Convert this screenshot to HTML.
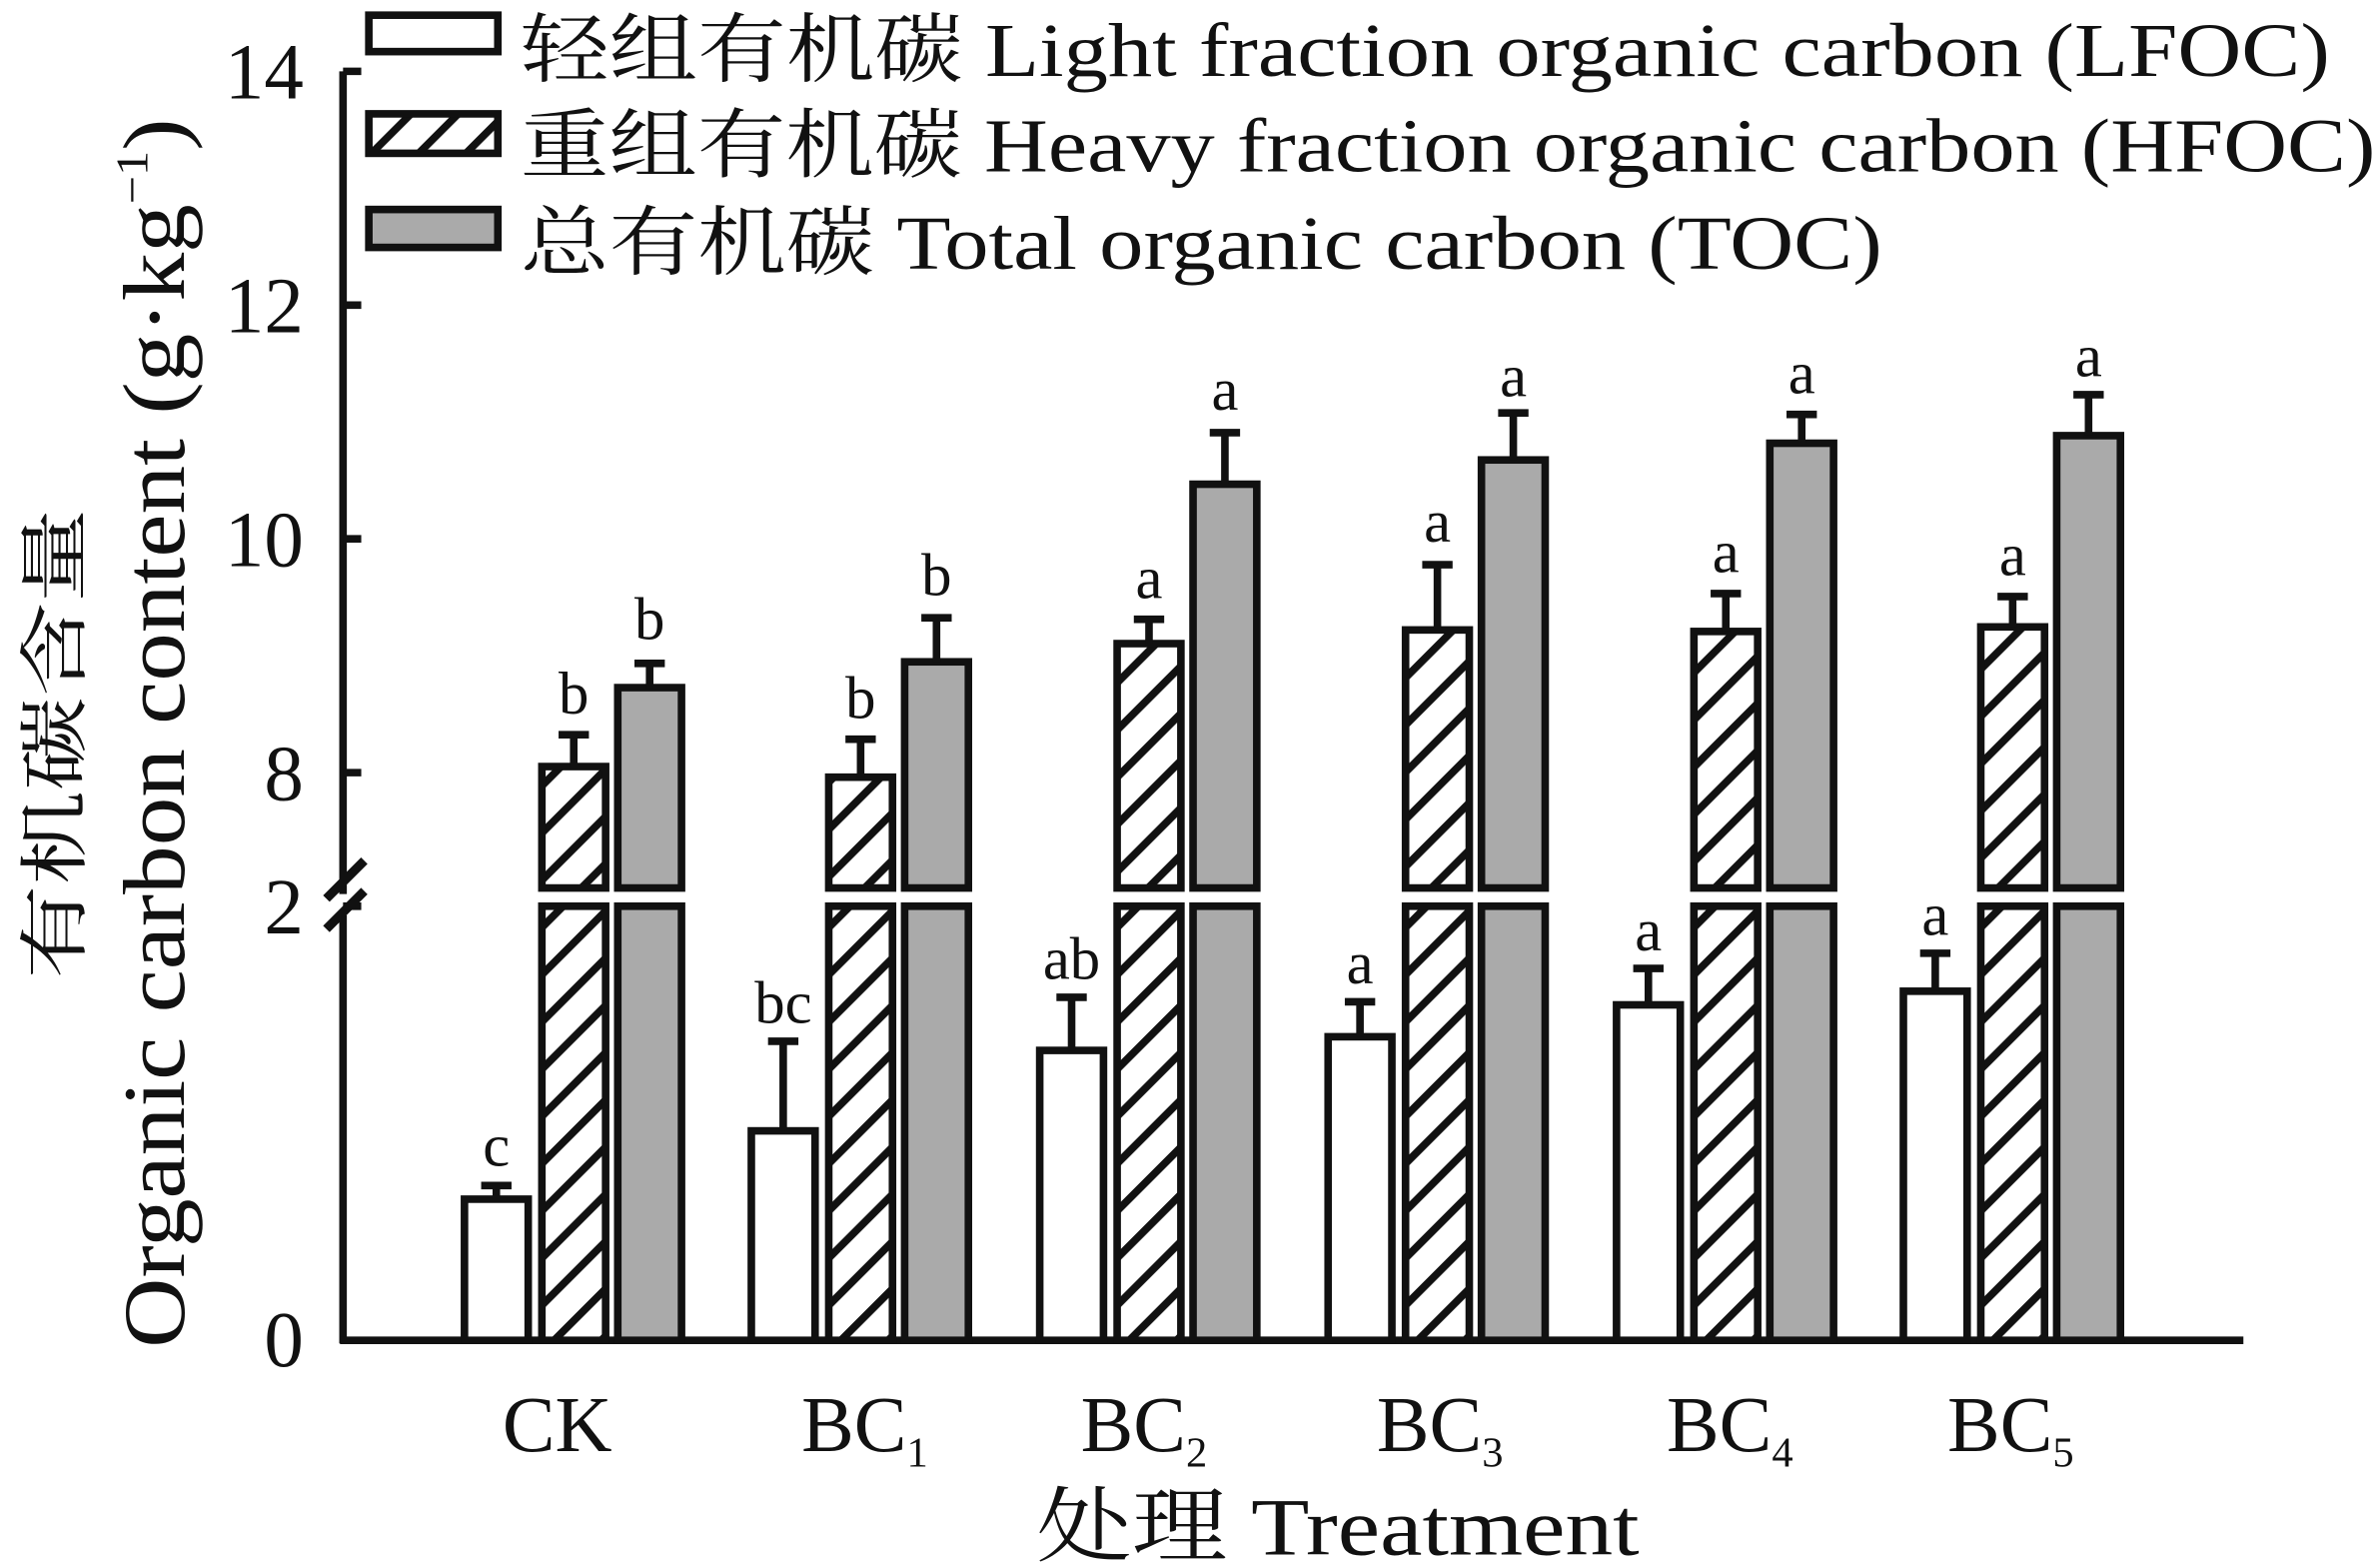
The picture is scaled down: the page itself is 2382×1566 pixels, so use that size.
<!DOCTYPE html>
<html><head><meta charset="utf-8"><style>
html,body{margin:0;padding:0;background:#fff;}
svg{display:block;}
text{font-family:"Liberation Serif","Noto Serif CJK SC",serif;fill:#111;}
</style></head><body>
<svg width="2382" height="1566" viewBox="0 0 1568 1031" preserveAspectRatio="none" xmlns="http://www.w3.org/2000/svg">
<defs>
<pattern id="h" patternUnits="userSpaceOnUse" width="22" height="22" patternTransform="rotate(45)">
<rect x="0" y="0" width="22" height="22" fill="#fff"/>
<rect x="0" y="0" width="5" height="22" fill="#111"/>
</pattern>
</defs>
<g stroke="#111" stroke-width="5" fill="none">
<line x1="226" y1="47" x2="226" y2="589"/>
<line x1="226" y1="603" x2="226" y2="885"/>
<line x1="224" y1="883" x2="1478" y2="883"/>
<line x1="226" y1="47" x2="238" y2="47"/>
<line x1="226" y1="201" x2="238" y2="201"/>
<line x1="226" y1="355" x2="238" y2="355"/>
<line x1="226" y1="509" x2="238" y2="509"/>
<line x1="215" y1="592" x2="240" y2="567" stroke-width="6"/>
<line x1="215" y1="612" x2="240" y2="587" stroke-width="6"/>
<line x1="226" y1="597" x2="238" y2="597"/>
</g>
<g stroke="#111" stroke-width="5">
<rect x="243" y="10" width="85" height="24" fill="#fff"/>
<rect x="243" y="75" width="85" height="26" fill="url(#h)"/>
<rect x="243" y="138" width="85" height="25" fill="#aaa"/>
</g>
<g font-size="50">
<text x="343" y="50" textLength="1192" lengthAdjust="spacingAndGlyphs">轻组有机碳 Light fraction organic carbon (LFOC)</text>
<text x="343" y="113" textLength="1222" lengthAdjust="spacingAndGlyphs">重组有机碳 Heavy fraction organic carbon (HFOC)</text>
<text x="343" y="177" textLength="897" lengthAdjust="spacingAndGlyphs">总有机碳 Total organic carbon (TOC)</text>
</g>
<g font-size="52" text-anchor="end">
<text x="200" y="65">14</text>
<text x="200" y="219">12</text>
<text x="200" y="373">10</text>
<text x="200" y="527">8</text>
<text x="200" y="615">2</text>
<text x="200" y="900">0</text>
</g>
<g stroke="#111" stroke-width="5">
<rect x="306" y="790" width="42" height="93" fill="#fff"/>
<rect x="495" y="745" width="42" height="138" fill="#fff"/>
<rect x="685" y="692" width="42" height="191" fill="#fff"/>
<rect x="875" y="683" width="42" height="200" fill="#fff"/>
<rect x="1065" y="662" width="42" height="221" fill="#fff"/>
<rect x="1254" y="653" width="42" height="230" fill="#fff"/>
<g id="low">
<rect x="357" y="597" width="42" height="286" fill="url(#h)"/>
<rect x="407" y="597" width="42" height="286" fill="#aaa"/>
</g>
<use href="#low" x="189"/><use href="#low" x="379"/><use href="#low" x="569"/><use href="#low" x="759"/><use href="#low" x="948"/>
<rect x="357" y="505" width="42" height="80" fill="url(#h)"/>
<rect x="546" y="512" width="42" height="73" fill="url(#h)"/>
<rect x="736" y="424" width="42" height="161" fill="url(#h)"/>
<rect x="926" y="415" width="42" height="170" fill="url(#h)"/>
<rect x="1116" y="416" width="42" height="169" fill="url(#h)"/>
<rect x="1305" y="413" width="42" height="172" fill="url(#h)"/>
<rect x="407" y="453" width="42" height="132" fill="#aaa"/>
<rect x="596" y="436" width="42" height="149" fill="#aaa"/>
<rect x="786" y="319" width="42" height="266" fill="#aaa"/>
<rect x="976" y="303" width="42" height="282" fill="#aaa"/>
<rect x="1166" y="292" width="42" height="293" fill="#aaa"/>
<rect x="1355" y="287" width="42" height="298" fill="#aaa"/>
</g>
<g stroke="#111" stroke-width="5" fill="none">
<path d="M327 790V781M317 781H337"/>
<path d="M516 745V686M506 686H526"/>
<path d="M706 692V657M696 657H716"/>
<path d="M896 683V660M886 660H906"/>
<path d="M1086 662V638M1076 638H1096"/>
<path d="M1275 653V628M1265 628H1285"/>
<path d="M378 505V484M368 484H388"/>
<path d="M567 512V487M557 487H577"/>
<path d="M757 424V408M747 408H767"/>
<path d="M947 415V372M937 372H957"/>
<path d="M1137 416V391M1127 391H1147"/>
<path d="M1326 413V393M1316 393H1336"/>
<path d="M428 453V437M418 437H438"/>
<path d="M617 436V407M607 407H627"/>
<path d="M807 319V285M797 285H817"/>
<path d="M997 303V272M987 272H1007"/>
<path d="M1187 292V273M1177 273H1197"/>
<path d="M1376 287V260M1366 260H1386"/>
</g>
<g font-size="40" text-anchor="middle">
<text x="327" y="768">c</text>
<text x="516" y="674">bc</text>
<text x="706" y="645">ab</text>
<text x="896" y="648">a</text>
<text x="1086" y="626">a</text>
<text x="1275" y="616">a</text>
<text x="378" y="470">b</text>
<text x="567" y="473">b</text>
<text x="757" y="394">a</text>
<text x="947" y="357">a</text>
<text x="1137" y="377">a</text>
<text x="1326" y="379">a</text>
<text x="428" y="421">b</text>
<text x="617" y="392">b</text>
<text x="807" y="270">a</text>
<text x="997" y="261">a</text>
<text x="1187" y="259">a</text>
<text x="1376" y="248">a</text>
</g>
<g font-size="52">
<text x="331" y="956">CK</text>
<text x="528" y="956">BC<tspan font-size="28" dy="10">1</tspan></text>
<text x="712" y="956">BC<tspan font-size="28" dy="10">2</tspan></text>
<text x="907" y="956">BC<tspan font-size="28" dy="10">3</tspan></text>
<text x="1098" y="956">BC<tspan font-size="28" dy="10">4</tspan></text>
<text x="1283" y="956">BC<tspan font-size="28" dy="10">5</tspan></text>
</g>
<text x="683" y="1024" font-size="54" textLength="397" lengthAdjust="spacingAndGlyphs">处理 Treatment</text>
<text transform="translate(52,490) rotate(-90)" font-size="46" text-anchor="middle" textLength="310" lengthAdjust="spacingAndGlyphs">有机碳含量</text>
<text transform="translate(121,483) rotate(-90)" font-size="58" text-anchor="middle" textLength="810" lengthAdjust="spacingAndGlyphs">Organic carbon content (g·kg<tspan font-size="30" dy="-24">−1</tspan><tspan dy="24">)</tspan></text>
</svg>
</body></html>
